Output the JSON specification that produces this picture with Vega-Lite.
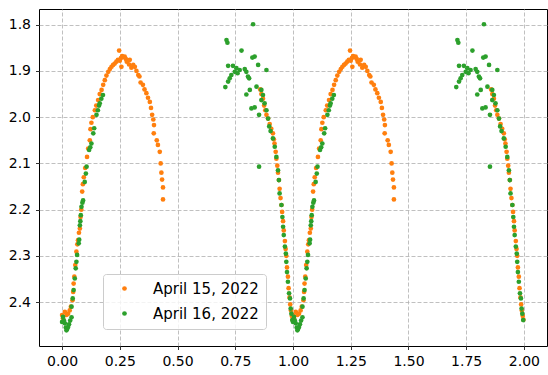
{
  "$schema": "https://vega.github.io/schema/vega-lite/v6.json",
  "width": 508,
  "height": 337,
  "autosize": {"type": "none"},
  "padding": {"left": 39, "top": 9, "right": 1, "bottom": 29},
  "background": "white",
  "config": {
    "font": "DejaVu Sans",
    "view": {"stroke": "black", "strokeWidth": 1},
    "axis": {
      "domain": false,
      "grid": true,
      "gridColor": "#b0b0b0",
      "gridDash": [4, 2],
      "gridWidth": 0.8,
      "tickColor": "black",
      "tickSize": 3.5,
      "tickWidth": 0.8,
      "labelColor": "black",
      "labelFontSize": 14,
      "labelFont": "DejaVu Sans",
      "title": null
    }
  },
  "datasets": {
    "a15": [
      {"p":0.000,"m":2.428},{"p":0.004,"m":2.435},{"p":0.012,"m":2.421},{"p":0.019,"m":2.428},{"p":0.026,"m":2.425},{"p":0.033,"m":2.418},{"p":0.038,"m":2.410},{"p":0.045,"m":2.396},{"p":0.048,"m":2.378},{"p":0.050,"m":2.360},{"p":0.053,"m":2.345},{"p":0.057,"m":2.320},{"p":0.062,"m":2.291},{"p":0.066,"m":2.275},{"p":0.069,"m":2.266},{"p":0.073,"m":2.250},{"p":0.077,"m":2.241},{"p":0.080,"m":2.216},{"p":0.083,"m":2.200},{"p":0.087,"m":2.161},{"p":0.090,"m":2.145},{"p":0.094,"m":2.130},{"p":0.100,"m":2.110},{"p":0.108,"m":2.086},{"p":0.113,"m":2.068},{"p":0.120,"m":2.050},{"p":0.123,"m":2.026},{"p":0.127,"m":2.012},{"p":0.133,"m":2.000},{"p":0.142,"m":1.985},{"p":0.148,"m":1.975},{"p":0.156,"m":1.963},{"p":0.163,"m":1.950},{"p":0.171,"m":1.941},{"p":0.178,"m":1.930},{"p":0.185,"m":1.920},{"p":0.192,"m":1.910},{"p":0.200,"m":1.902},{"p":0.207,"m":1.896},{"p":0.214,"m":1.891},{"p":0.221,"m":1.887},{"p":0.228,"m":1.884},{"p":0.235,"m":1.880},{"p":0.242,"m":1.876},{"p":0.247,"m":1.856},{"p":0.250,"m":1.878},{"p":0.255,"m":1.872},{"p":0.257,"m":1.891},{"p":0.260,"m":1.868},{"p":0.265,"m":1.870},{"p":0.271,"m":1.869},{"p":0.276,"m":1.874},{"p":0.280,"m":1.880},{"p":0.285,"m":1.878},{"p":0.290,"m":1.886},{"p":0.293,"m":1.876},{"p":0.300,"m":1.893},{"p":0.308,"m":1.887},{"p":0.315,"m":1.891},{"p":0.322,"m":1.900},{"p":0.330,"m":1.909},{"p":0.335,"m":1.912},{"p":0.340,"m":1.925},{"p":0.350,"m":1.930},{"p":0.357,"m":1.940},{"p":0.365,"m":1.948},{"p":0.372,"m":1.958},{"p":0.380,"m":1.967},{"p":0.385,"m":1.980},{"p":0.390,"m":1.995},{"p":0.395,"m":2.005},{"p":0.398,"m":2.017},{"p":0.397,"m":2.035},{"p":0.410,"m":2.050},{"p":0.415,"m":2.060},{"p":0.423,"m":2.075},{"p":0.427,"m":2.100},{"p":0.430,"m":2.120},{"p":0.433,"m":2.135},{"p":0.437,"m":2.152},{"p":0.437,"m":2.178},
      {"p":0.858,"m":1.940},{"p":0.863,"m":1.950},{"p":0.870,"m":1.960},{"p":0.875,"m":1.975},{"p":0.880,"m":1.985},{"p":0.885,"m":1.995},{"p":0.892,"m":2.003},{"p":0.899,"m":2.015},{"p":0.906,"m":2.025},{"p":0.913,"m":2.035},{"p":0.917,"m":2.048},{"p":0.920,"m":2.057},{"p":0.925,"m":2.075},{"p":0.928,"m":2.090},{"p":0.932,"m":2.105},{"p":0.935,"m":2.120},{"p":0.939,"m":2.136},{"p":0.942,"m":2.155},{"p":0.946,"m":2.175},{"p":0.950,"m":2.190},{"p":0.953,"m":2.205},{"p":0.957,"m":2.225},{"p":0.960,"m":2.245},{"p":0.965,"m":2.268},{"p":0.968,"m":2.285},{"p":0.971,"m":2.300},{"p":0.974,"m":2.325},{"p":0.978,"m":2.345},{"p":0.981,"m":2.370},{"p":0.985,"m":2.390},{"p":0.988,"m":2.405},{"p":0.991,"m":2.418},{"p":0.995,"m":2.430},{"p":0.998,"m":2.438},
      {"p":1.000,"m":2.428},{"p":1.004,"m":2.435},{"p":1.012,"m":2.421},{"p":1.019,"m":2.428},{"p":1.026,"m":2.425},{"p":1.033,"m":2.418},{"p":1.038,"m":2.410},{"p":1.045,"m":2.396},{"p":1.048,"m":2.378},{"p":1.050,"m":2.360},{"p":1.053,"m":2.345},{"p":1.057,"m":2.320},{"p":1.062,"m":2.291},{"p":1.066,"m":2.275},{"p":1.069,"m":2.266},{"p":1.073,"m":2.250},{"p":1.077,"m":2.241},{"p":1.080,"m":2.216},{"p":1.083,"m":2.200},{"p":1.087,"m":2.161},{"p":1.090,"m":2.145},{"p":1.094,"m":2.130},{"p":1.100,"m":2.110},{"p":1.108,"m":2.086},{"p":1.113,"m":2.068},{"p":1.120,"m":2.050},{"p":1.123,"m":2.026},{"p":1.127,"m":2.012},{"p":1.133,"m":2.000},{"p":1.142,"m":1.985},{"p":1.148,"m":1.975},{"p":1.156,"m":1.963},{"p":1.163,"m":1.950},{"p":1.171,"m":1.941},{"p":1.178,"m":1.930},{"p":1.185,"m":1.920},{"p":1.192,"m":1.910},{"p":1.200,"m":1.902},{"p":1.207,"m":1.896},{"p":1.214,"m":1.891},{"p":1.221,"m":1.887},{"p":1.228,"m":1.884},{"p":1.235,"m":1.880},{"p":1.242,"m":1.876},{"p":1.247,"m":1.856},{"p":1.250,"m":1.878},{"p":1.255,"m":1.872},{"p":1.257,"m":1.891},{"p":1.260,"m":1.868},{"p":1.265,"m":1.870},{"p":1.271,"m":1.869},{"p":1.276,"m":1.874},{"p":1.280,"m":1.880},{"p":1.285,"m":1.878},{"p":1.290,"m":1.886},{"p":1.293,"m":1.876},{"p":1.300,"m":1.893},{"p":1.308,"m":1.887},{"p":1.315,"m":1.891},{"p":1.322,"m":1.900},{"p":1.330,"m":1.909},{"p":1.335,"m":1.912},{"p":1.340,"m":1.925},{"p":1.350,"m":1.930},{"p":1.357,"m":1.940},{"p":1.365,"m":1.948},{"p":1.372,"m":1.958},{"p":1.380,"m":1.967},{"p":1.385,"m":1.980},{"p":1.390,"m":1.995},{"p":1.395,"m":2.005},{"p":1.398,"m":2.017},{"p":1.397,"m":2.035},{"p":1.410,"m":2.050},{"p":1.415,"m":2.060},{"p":1.423,"m":2.075},{"p":1.427,"m":2.100},{"p":1.430,"m":2.120},{"p":1.433,"m":2.135},{"p":1.437,"m":2.152},{"p":1.437,"m":2.178},
      {"p":1.858,"m":1.940},{"p":1.863,"m":1.950},{"p":1.870,"m":1.960},{"p":1.875,"m":1.975},{"p":1.880,"m":1.985},{"p":1.885,"m":1.995},{"p":1.892,"m":2.003},{"p":1.899,"m":2.015},{"p":1.906,"m":2.025},{"p":1.913,"m":2.035},{"p":1.917,"m":2.048},{"p":1.920,"m":2.057},{"p":1.925,"m":2.075},{"p":1.928,"m":2.090},{"p":1.932,"m":2.105},{"p":1.935,"m":2.120},{"p":1.939,"m":2.136},{"p":1.942,"m":2.155},{"p":1.946,"m":2.175},{"p":1.950,"m":2.190},{"p":1.953,"m":2.205},{"p":1.957,"m":2.225},{"p":1.960,"m":2.245},{"p":1.965,"m":2.268},{"p":1.968,"m":2.285},{"p":1.971,"m":2.300},{"p":1.974,"m":2.325},{"p":1.978,"m":2.345},{"p":1.981,"m":2.370},{"p":1.985,"m":2.390},{"p":1.988,"m":2.405},{"p":1.991,"m":2.418},{"p":1.995,"m":2.430},{"p":1.998,"m":2.438}
    ],
    "a16": [
      {"p":0.000,"m":2.443},{"p":0.004,"m":2.432},{"p":0.008,"m":2.440},{"p":0.012,"m":2.446},{"p":0.016,"m":2.455},{"p":0.019,"m":2.461},{"p":0.022,"m":2.458},{"p":0.026,"m":2.454},{"p":0.030,"m":2.448},{"p":0.035,"m":2.440},{"p":0.041,"m":2.433},{"p":0.041,"m":2.410},{"p":0.046,"m":2.392},{"p":0.050,"m":2.374},{"p":0.055,"m":2.349},{"p":0.059,"m":2.327},{"p":0.062,"m":2.313},{"p":0.065,"m":2.298},{"p":0.072,"m":2.273},{"p":0.074,"m":2.265},{"p":0.077,"m":2.234},{"p":0.079,"m":2.225},{"p":0.081,"m":2.212},{"p":0.084,"m":2.194},{"p":0.088,"m":2.185},{"p":0.091,"m":2.180},{"p":0.098,"m":2.140},{"p":0.103,"m":2.122},{"p":0.106,"m":2.107},{"p":0.117,"m":2.071},{"p":0.122,"m":2.065},{"p":0.127,"m":2.057},{"p":0.135,"m":2.035},{"p":0.139,"m":2.024},{"p":0.149,"m":1.995},{"p":0.155,"m":1.985},{"p":0.160,"m":1.975},{"p":0.163,"m":1.970},{"p":0.170,"m":1.960},{"p":0.177,"m":1.952},
      {"p":0.827,"m":1.799},{"p":0.712,"m":1.833},{"p":0.716,"m":1.839},{"p":0.777,"m":1.856},{"p":0.834,"m":1.869},{"p":0.824,"m":1.871},{"p":0.849,"m":1.887},{"p":0.885,"m":1.898},{"p":0.719,"m":1.889},{"p":0.740,"m":1.889},{"p":0.755,"m":1.894},{"p":0.769,"m":1.898},{"p":0.748,"m":1.902},{"p":0.760,"m":1.905},{"p":0.791,"m":1.896},{"p":0.798,"m":1.902},{"p":0.805,"m":1.912},{"p":0.810,"m":1.916},{"p":0.733,"m":1.909},{"p":0.726,"m":1.916},{"p":0.719,"m":1.923},{"p":0.707,"m":1.935},{"p":0.842,"m":1.934},{"p":0.813,"m":1.941},{"p":0.798,"m":1.951},{"p":0.863,"m":1.941},{"p":0.870,"m":1.952},{"p":0.863,"m":1.963},{"p":0.877,"m":1.970},{"p":0.834,"m":1.979},{"p":0.820,"m":1.981},{"p":0.853,"m":1.995},{"p":0.853,"m":2.107},{"p":0.885,"m":1.985},{"p":0.892,"m":2.003},
      {"p":0.897,"m":2.020},{"p":0.903,"m":2.030},{"p":0.913,"m":2.046},{"p":0.921,"m":2.064},{"p":0.928,"m":2.086},{"p":0.935,"m":2.115},{"p":0.939,"m":2.136},{"p":0.942,"m":2.165},{"p":0.950,"m":2.190},{"p":0.954,"m":2.216},{"p":0.957,"m":2.237},{"p":0.960,"m":2.255},{"p":0.965,"m":2.280},{"p":0.969,"m":2.295},{"p":0.971,"m":2.313},{"p":0.974,"m":2.335},{"p":0.978,"m":2.356},{"p":0.983,"m":2.381},{"p":0.987,"m":2.392},{"p":0.990,"m":2.414},{"p":0.993,"m":2.425},{"p":0.997,"m":2.439},
      {"p":1.000,"m":2.443},{"p":1.004,"m":2.432},{"p":1.008,"m":2.440},{"p":1.012,"m":2.446},{"p":1.016,"m":2.455},{"p":1.019,"m":2.461},{"p":1.022,"m":2.458},{"p":1.026,"m":2.454},{"p":1.030,"m":2.448},{"p":1.035,"m":2.440},{"p":1.041,"m":2.433},{"p":1.041,"m":2.410},{"p":1.046,"m":2.392},{"p":1.050,"m":2.374},{"p":1.055,"m":2.349},{"p":1.059,"m":2.327},{"p":1.062,"m":2.313},{"p":1.065,"m":2.298},{"p":1.072,"m":2.273},{"p":1.074,"m":2.265},{"p":1.077,"m":2.234},{"p":1.079,"m":2.225},{"p":1.081,"m":2.212},{"p":1.084,"m":2.194},{"p":1.088,"m":2.185},{"p":1.091,"m":2.180},{"p":1.098,"m":2.140},{"p":1.103,"m":2.122},{"p":1.106,"m":2.107},{"p":1.117,"m":2.071},{"p":1.122,"m":2.065},{"p":1.127,"m":2.057},{"p":1.135,"m":2.035},{"p":1.139,"m":2.024},{"p":1.149,"m":1.995},{"p":1.155,"m":1.985},{"p":1.160,"m":1.975},{"p":1.163,"m":1.970},{"p":1.170,"m":1.960},{"p":1.177,"m":1.952},
      {"p":1.827,"m":1.799},{"p":1.712,"m":1.833},{"p":1.716,"m":1.839},{"p":1.777,"m":1.856},{"p":1.834,"m":1.869},{"p":1.824,"m":1.871},{"p":1.849,"m":1.887},{"p":1.885,"m":1.898},{"p":1.719,"m":1.889},{"p":1.740,"m":1.889},{"p":1.755,"m":1.894},{"p":1.769,"m":1.898},{"p":1.748,"m":1.902},{"p":1.760,"m":1.905},{"p":1.791,"m":1.896},{"p":1.798,"m":1.902},{"p":1.805,"m":1.912},{"p":1.810,"m":1.916},{"p":1.733,"m":1.909},{"p":1.726,"m":1.916},{"p":1.719,"m":1.923},{"p":1.707,"m":1.935},{"p":1.842,"m":1.934},{"p":1.813,"m":1.941},{"p":1.798,"m":1.951},{"p":1.863,"m":1.941},{"p":1.870,"m":1.952},{"p":1.863,"m":1.963},{"p":1.877,"m":1.970},{"p":1.834,"m":1.979},{"p":1.820,"m":1.981},{"p":1.853,"m":1.995},{"p":1.853,"m":2.107},{"p":1.885,"m":1.985},{"p":1.892,"m":2.003},
      {"p":1.897,"m":2.020},{"p":1.903,"m":2.030},{"p":1.913,"m":2.046},{"p":1.921,"m":2.064},{"p":1.928,"m":2.086},{"p":1.935,"m":2.115},{"p":1.939,"m":2.136},{"p":1.942,"m":2.165},{"p":1.950,"m":2.190},{"p":1.954,"m":2.216},{"p":1.957,"m":2.237},{"p":1.960,"m":2.255},{"p":1.965,"m":2.280},{"p":1.969,"m":2.295},{"p":1.971,"m":2.313},{"p":1.974,"m":2.335},{"p":1.978,"m":2.356},{"p":1.983,"m":2.381},{"p":1.987,"m":2.392},{"p":1.990,"m":2.414},{"p":1.993,"m":2.425},{"p":1.997,"m":2.439}
    ]
  },
  "encoding": {
    "x": {"field": "p", "type": "quantitative", "scale": {"domain": [-0.1, 2.1], "nice": false, "zero": false},
          "axis": {"values": [0, 0.25, 0.5, 0.75, 1, 1.25, 1.5, 1.75, 2], "format": ".2f", "labelPadding": 5}},
    "y": {"field": "m", "type": "quantitative", "scale": {"domain": [1.766, 2.495], "reverse": true, "nice": false, "zero": false},
          "axis": {"values": [1.8, 1.9, 2.0, 2.1, 2.2, 2.3, 2.4], "format": ".1f", "labelPadding": 5}},
    "color": {
      "type": "nominal",
      "scale": {"domain": ["April 15, 2022", "April 16, 2022"], "range": ["#ff7f0e", "#2ca02c"]},
      "legend": {
        "title": null, "orient": "none", "legendX": 64, "legendY": 265,
        "fillColor": "rgba(255,255,255,0.8)", "strokeColor": "#cccccc", "cornerRadius": 3,
        "padding": 7, "symbolOffset": 7, "labelOffset": 21, "rowPadding": 9,
        "labelFontSize": 15, "labelColor": "black", "symbolType": "circle", "symbolSize": 22,
        "symbolStrokeWidth": 0, "labelFont": "DejaVu Sans"
      }
    }
  },
  "layer": [
    {"data": {"name": "a15"}, "mark": {"type": "point", "filled": true, "size": 22, "opacity": 1},
     "encoding": {"color": {"datum": "April 15, 2022"}}},
    {"data": {"name": "a16"}, "mark": {"type": "point", "filled": true, "size": 22, "opacity": 1},
     "encoding": {"color": {"datum": "April 16, 2022"}}}
  ]
}
